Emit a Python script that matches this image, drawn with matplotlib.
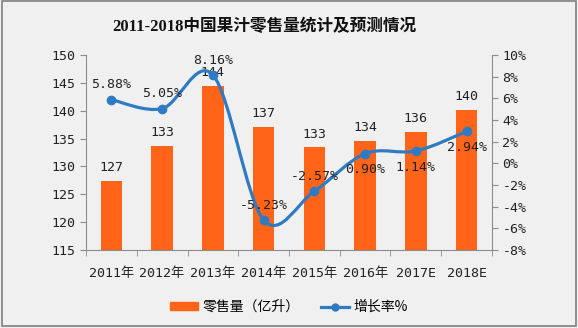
import numpy as np
import matplotlib.pyplot as plt
from matplotlib.path import Path
from matplotlib.patches import PathPatch, Rectangle
from matplotlib.lines import Line2D

plt.rcParams['font.family'] = ['DejaVu Sans Mono', 'Noto Sans CJK SC']

# data
years = ['2011年', '2012年', '2013年', '2014年', '2015年', '2016年', '2017E', '2018E']
sales = [127.4, 133.6, 144.5, 137.1, 133.4, 134.6, 136.1, 140.2]   # 亿升
growth = [5.88, 5.05, 8.16, -5.23, -2.57, 0.90, 1.14, 2.94]        # %
growth_pos = ['up', 'up', 'up', 'up', 'up', 'down', 'down', 'down']

bar_col = '#FF6418'
line_col = '#2E7BC4'
bg = '#F0F0F0'
axis_col = '#8C8C8C'
fs = 9.5

fig = plt.figure(figsize=(5.78, 3.28), dpi=100, facecolor=bg)
fig.patches.append(Rectangle((0.004, 0.006), 0.993, 0.99, transform=fig.transFigure,
                             fill=False, edgecolor='#7F7F7F', lw=1.2))

ax = fig.add_axes([86 / 578, 1 - 250 / 328, 406 / 578, 195 / 328])
ax.set_facecolor('none')
ax2 = ax.twinx()

x = np.arange(len(years))
ax.bar(x, sales, width=0.42, color=bar_col, zorder=2)
for xi, v in zip(x, sales):
    ax.annotate(str(int(v)), (xi, v), xytext=(0, 5), textcoords='offset points',
                ha='center', va='bottom', fontsize=fs, color='#222222')

ax.set_xlim(-0.5, len(years) - 0.5)
ax.set_ylim(115, 150)
ax.set_yticks(np.arange(115, 151, 5))
ax2.set_ylim(-8, 10)
ax2.set_yticks(np.arange(-8, 11, 2))
ax2.set_yticklabels([f'{t}%' for t in range(-8, 11, 2)])

# smoothed line (catmull-rom -> bezier, like excel smoothing)
pts = np.column_stack([x, growth]).astype(float)
verts = [pts[0]]
codes = [Path.MOVETO]
n = len(pts)
for i in range(n - 1):
    p0 = pts[max(i - 1, 0)]
    p1 = pts[i]
    p2 = pts[i + 1]
    p3 = pts[min(i + 2, n - 1)]
    c1 = p1 + (p2 - p0) / 6
    c2 = p2 - (p3 - p1) / 6
    verts += [c1, c2, p2]
    codes += [Path.CURVE4] * 3
ax2.add_patch(PathPatch(Path(verts, codes), fill=False, edgecolor=line_col, lw=2.3, zorder=3))
ax2.plot(x, growth, 'o', color=line_col, ms=6, zorder=4)
for xi, g, pos in zip(x, growth, growth_pos):
    off = 6 if pos == 'up' else -7
    ax2.annotate(f'{g:.2f}%', (xi, g), xytext=(0, off), textcoords='offset points',
                 ha='center', va='bottom' if pos == 'up' else 'top',
                 fontsize=fs, color='#222222', zorder=5)

for a in (ax, ax2):
    a.spines['top'].set_visible(False)
    for s in ('left', 'right', 'bottom'):
        a.spines[s].set_color(axis_col)
    a.tick_params(colors=axis_col, labelcolor='#222222', labelsize=fs, length=4, width=0.8)
ax.spines['right'].set_visible(False)
ax2.spines['left'].set_visible(False)
ax2.spines['bottom'].set_visible(False)

ax.set_xticks(x)
ax.set_xticklabels(years)
ax.set_xticks(np.arange(-0.5, len(years), 1), minor=True)
ax.tick_params(axis='x', which='major', length=0, pad=12)
ax.tick_params(axis='x', which='minor', length=4, color=axis_col)

fig.text(264 / 578, 1 - 27 / 328, '2011-2018中国果汁零售量统计及预测情况', ha='center', va='center',
         fontsize=12, fontweight='bold', color='#111111',
         family=['Liberation Serif', 'Noto Sans CJK SC'])

handles = [Rectangle((0, 0), 1, 1, color=bar_col),
           Line2D([0], [0], color=line_col, lw=2.3, marker='o', ms=5)]
fig.legend(handles, ['零售量（亿升）', '增长率%'], loc='center', bbox_to_anchor=(0.5, 1 - 307 / 328),
           ncol=2, frameon=False, prop={'size': 10, 'family': ['Noto Sans CJK SC', 'DejaVu Sans']},
           handlelength=2.0, handleheight=0.5, columnspacing=1.6, handletextpad=0.3)

fig.savefig('out.png', dpi=100, facecolor=bg)
